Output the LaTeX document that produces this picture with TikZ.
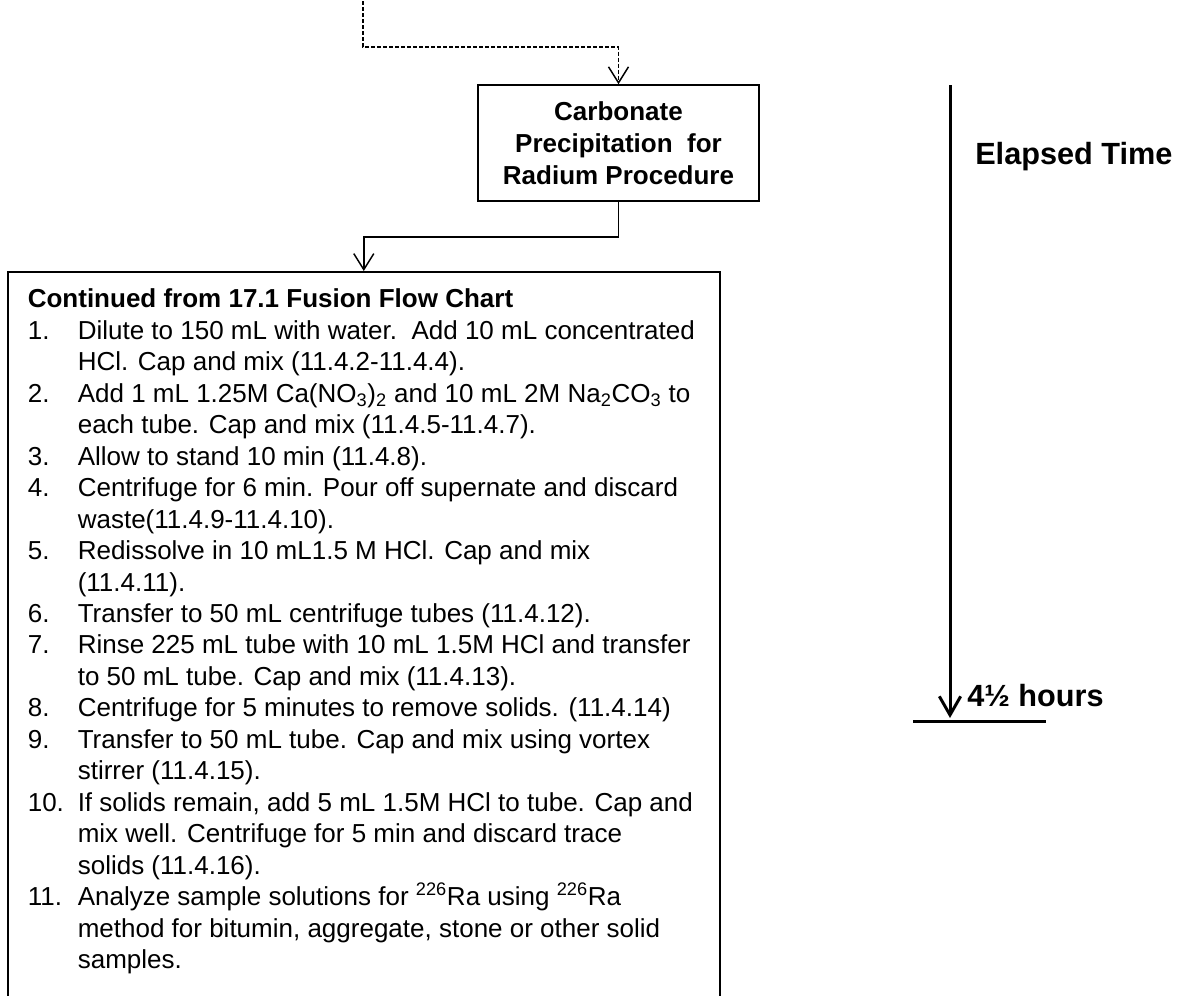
\documentclass[tikz,border=0pt]{standalone}
\usepackage{fontspec}
\setmainfont{Liberation Sans}
\usetikzlibrary{positioning, arrows.meta}
\newcommand{\iso}[1]{\smash{\textsuperscript{#1}}}

\begin{document}
\begin{tikzpicture}[x=0.75pt, y=-0.75pt,
  procbox/.style={draw, line width=1.2pt, align=center, minimum width=210.75pt,
    minimum height=87pt, inner sep=2pt, font=\bfseries\fontsize{19.5pt}{24pt}\selectfont},
  listbox/.style={draw, line width=1.2pt, inner xsep=15pt, inner ysep=10.5pt,
    anchor=north west, font=\fontsize{19.5pt}{23.6pt}\selectfont},
  flow/.style={line width=1.1pt, -{Straight Barb[length=12pt, width=15pt]}},
  dashflow/.style={flow, dash pattern=on 3pt off 1.5pt},
  timeline/.style={line width=2.25pt, -{Straight Barb[length=14pt, width=16pt]}},
  timelabel/.style={inner sep=0pt, anchor=base west, font=\bfseries\fontsize{23pt}{27pt}\selectfont}]
\useasboundingbox (0,0) rectangle (1186,996);
\node[procbox] (carb) at (618.5,143) {Carbonate\\Precipitation\ \ for\\Radium Procedure};
\node[listbox] (steps) at (7,271) {\begin{minipage}[t][540pt][t]{504pt}
\begin{tabular}{@{}p{37.5pt}@{}l@{}}
\multicolumn{2}{@{}l@{}}{\bfseries Continued from 17.1 Fusion Flow Chart}\\
1. & Dilute to 150 mL with water.\ \ Add 10 mL concentrated\\
   & HCl. Cap and mix (11.4.2-11.4.4).\\
2. & Add 1 mL 1.25M Ca(NO\textsubscript{3})\textsubscript{2} and 10 mL 2M Na\textsubscript{2}CO\textsubscript{3} to\\
   & each tube. Cap and mix (11.4.5-11.4.7).\\
3. & Allow to stand 10 min (11.4.8).\\
4. & Centrifuge for 6 min. Pour off supernate and discard\\
   & waste(11.4.9-11.4.10).\\
5. & Redissolve in 10 mL1.5 M HCl. Cap and mix\\
   & (11.4.11).\\
6. & Transfer to 50 mL centrifuge tubes (11.4.12).\\
7. & Rinse 225 mL tube with 10 mL 1.5M HCl and transfer\\
   & to 50 mL tube. Cap and mix (11.4.13).\\
8. & Centrifuge for 5 minutes to remove solids. (11.4.14)\\
9. & Transfer to 50 mL tube. Cap and mix using vortex\\
   & stirrer (11.4.15).\\
10. & If solids remain, add 5 mL 1.5M HCl to tube. Cap and\\
    & mix well. Centrifuge for 5 min and discard trace\\
    & solids (11.4.16).\\
11. & Analyze sample solutions for \iso{226}Ra using \iso{226}Ra\\
    & method for bitumin, aggregate, stone or other solid\\
    & samples.
\end{tabular}
\end{minipage}};
% connectors
\coordinate (src) at (363,-5);
\draw[dashflow] (src) -- ++(0,52) -| (carb.north);
\draw[flow] (carb.south) -- ++(0,35) -| (steps.north);
% elapsed time
\coordinate (t0) at (950,85);
\coordinate (t1) at (950,718);
\coordinate (bar0) at (913,721);
\coordinate (bar1) at (1046,721);
\draw[timeline] (t0) -- (t1);
\draw[line width=2.25pt] (bar0) -- (bar1);
\node[timelabel] (elapsed) at (975,164) {Elapsed Time};
\node[timelabel] (hours) at (967,706) {4½ hours};
\end{tikzpicture}
\end{document}
